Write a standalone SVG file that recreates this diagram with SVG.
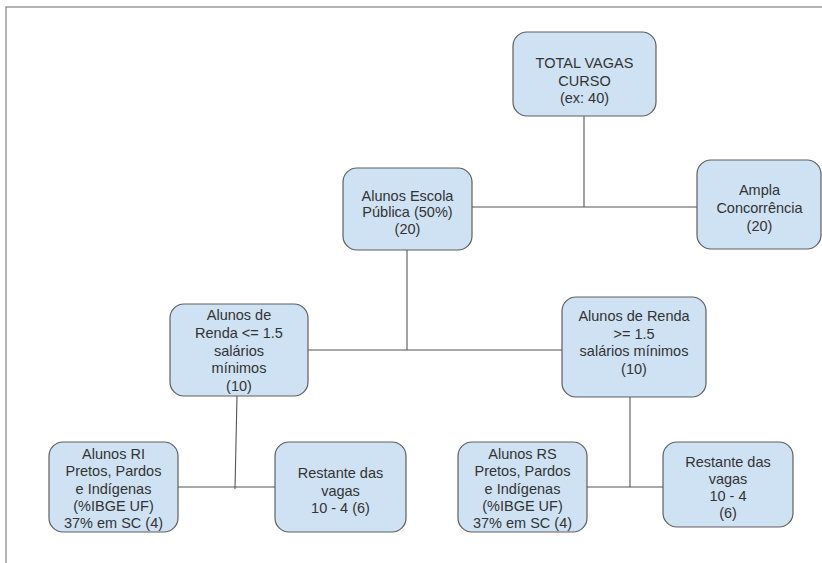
<svg xmlns="http://www.w3.org/2000/svg" width="822" height="563" viewBox="0 0 822 563">
  <style>
    .box { fill: #cfe2f3; stroke: #5f5f5f; stroke-width: 1.2; }
    .lbl { font-family: "Liberation Sans", Arial, sans-serif; font-size: 14.5px; fill: #333333; text-anchor: middle; }
    .wire { fill: none; stroke: #555; stroke-width: 1.1; }
    .frame { fill: none; stroke: #9a9a9a; stroke-width: 1.5; }
  </style>
  <rect width="822" height="563" fill="#ffffff"/>
  <path class="frame" d="M6,563 V7 H822"/>

  <g id="connectors">
    <path class="wire" d="M584,116 V207"/>
    <path class="wire" d="M472,207 H697"/>
    <path class="wire" d="M407,250 V350"/>
    <path class="wire" d="M308,350 H562"/>
    <path class="wire" d="M237,396 L235,489"/>
    <path class="wire" d="M178,487 H275"/>
    <path class="wire" d="M630,397 V487"/>
    <path class="wire" d="M587,487 H663"/>
  </g>

  <g id="total">
    <rect class="box" x="513" y="32" width="143" height="84" rx="14"/>
    <text class="lbl" x="584.5" y="68">TOTAL VAGAS<tspan x="584.5" dy="17.5">CURSO</tspan><tspan x="584.5" dy="17.5">(ex: 40)</tspan></text>
  </g>

  <g id="escola-publica">
    <rect class="box" x="343" y="168" width="129" height="82" rx="14"/>
    <text class="lbl" x="407.5" y="200.5">Alunos Escola<tspan x="407.5" dy="16.5">Pública (50%)</tspan><tspan x="407.5" dy="16.5">(20)</tspan></text>
  </g>

  <g id="ampla">
    <rect class="box" x="697" y="160" width="124" height="89" rx="14"/>
    <text class="lbl" x="759.5" y="195">Ampla<tspan x="759.5" dy="18">Concorrência</tspan><tspan x="759.5" dy="18">(20)</tspan></text>
  </g>

  <g id="renda-baixa">
    <rect class="box" x="170" y="304" width="138" height="92" rx="14"/>
    <text class="lbl" x="239" y="320">Alunos de<tspan x="239" dy="17.8">Renda &lt;= 1.5</tspan><tspan x="239" dy="17.8">salários</tspan><tspan x="239" dy="17.8">mínimos</tspan><tspan x="239" dy="17.8">(10)</tspan></text>
  </g>

  <g id="renda-alta">
    <rect class="box" x="562" y="297" width="144" height="100" rx="14"/>
    <text class="lbl" x="634" y="321">Alunos de Renda<tspan x="634" dy="17.5">&gt;= 1.5</tspan><tspan x="634" dy="17.5">salários mínimos</tspan><tspan x="634" dy="17.5">(10)</tspan></text>
  </g>

  <g id="ri-ppi">
    <rect class="box" x="49" y="442" width="129" height="90" rx="14"/>
    <text class="lbl" x="113.5" y="459">Alunos RI<tspan x="113.5" dy="17.3">Pretos, Pardos</tspan><tspan x="113.5" dy="17.3">e Indígenas</tspan><tspan x="113.5" dy="17.3">(%IBGE UF)</tspan><tspan x="113.5" dy="17.3">37% em SC (4)</tspan></text>
  </g>

  <g id="ri-restante">
    <rect class="box" x="275" y="442" width="131" height="90" rx="14"/>
    <text class="lbl" x="340.5" y="478">Restante das<tspan x="340.5" dy="17.5">vagas</tspan><tspan x="340.5" dy="17.5">10 - 4 (6)</tspan></text>
  </g>

  <g id="rs-ppi">
    <rect class="box" x="458" y="442" width="129" height="90" rx="14"/>
    <text class="lbl" x="522.5" y="459">Alunos RS<tspan x="522.5" dy="17.3">Pretos, Pardos</tspan><tspan x="522.5" dy="17.3">e Indígenas</tspan><tspan x="522.5" dy="17.3">(%IBGE UF)</tspan><tspan x="522.5" dy="17.3">37% em SC (4)</tspan></text>
  </g>

  <g id="rs-restante">
    <rect class="box" x="663" y="442" width="130" height="85" rx="14"/>
    <text class="lbl" x="728" y="467">Restante das<tspan x="728" dy="17">vagas</tspan><tspan x="728" dy="17">10 - 4</tspan><tspan x="728" dy="17">(6)</tspan></text>
  </g>
</svg>
